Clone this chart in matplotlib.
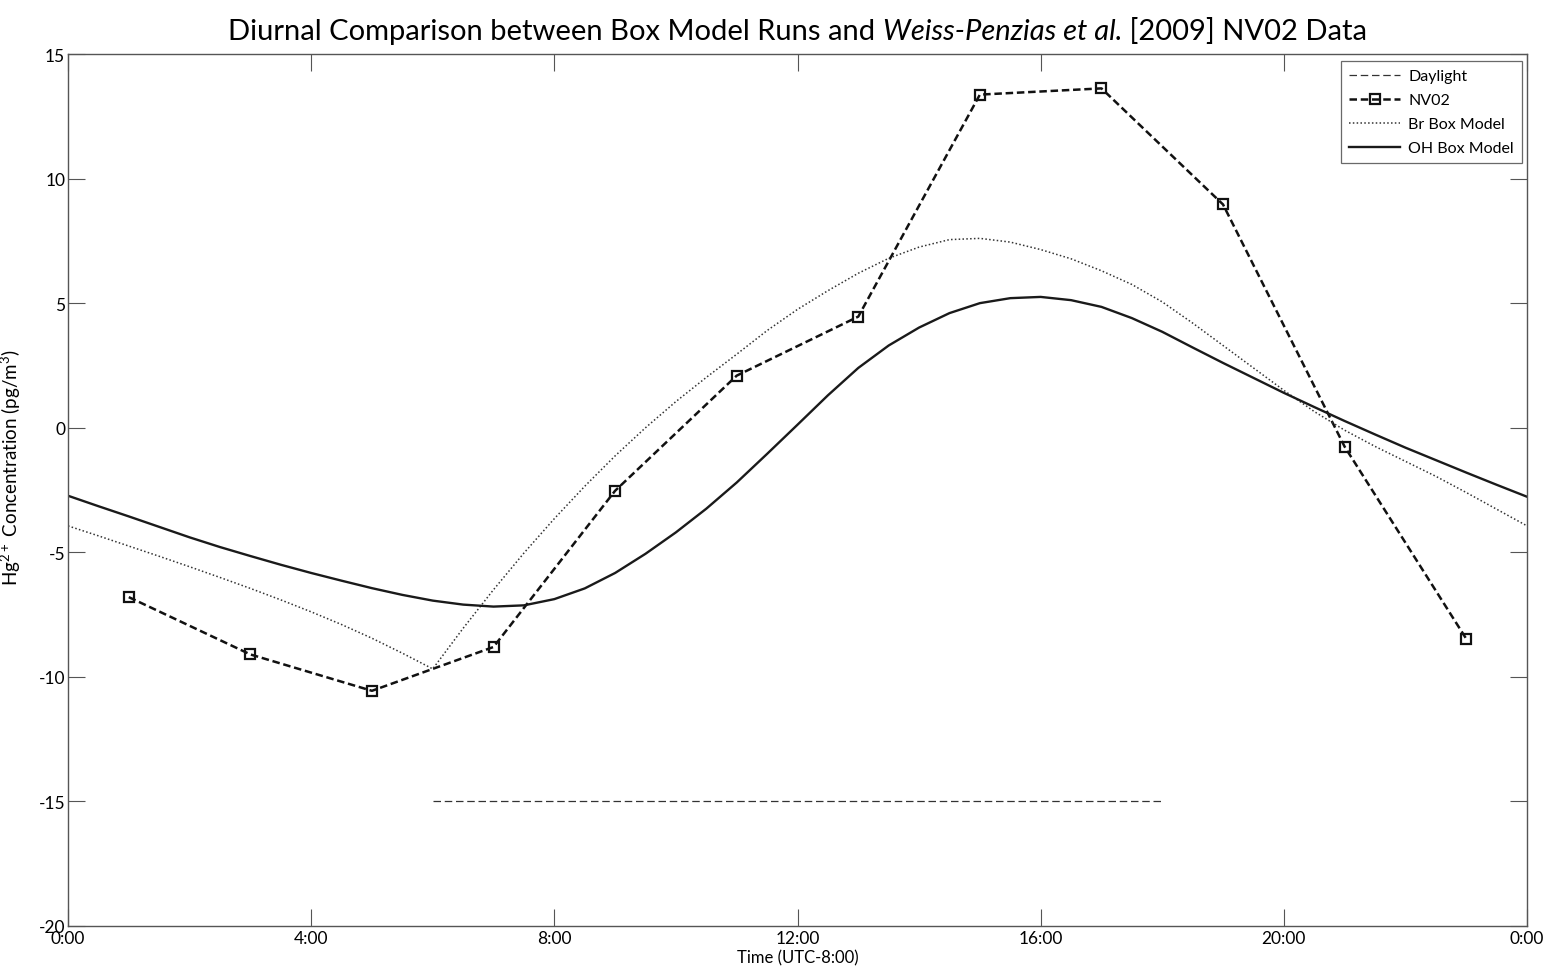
import matplotlib
matplotlib.use("Agg")
import matplotlib.pyplot as plt
from matplotlib.offsetbox import TextArea, HPacker, AnchoredOffsetbox

plt.rcParams['font.family'] = ['Lato', 'DejaVu Sans']
plt.rcParams['axes.unicode_minus'] = False
plt.rcParams['mathtext.fontset'] = 'custom'
plt.rcParams['mathtext.rm'] = 'Lato'

# ---------------- data ----------------
# NV02 observations (hour of day, pg/m3)
nv02_hours = [1, 3, 5, 7, 9, 11, 13, 15, 17, 19, 21, 23]
nv02_values = [-6.8, -9.1, -10.56, -8.8, -2.53, 2.09, 4.46, 13.37, 13.62, 8.96, -0.76, -8.47]

# Daylight period
daylight_hours = [6, 18]
daylight_values = [-15, -15]

# Box-model curves, read every half hour
model_hours = [0.0, 0.5, 1.0, 1.5, 2.0, 2.5, 3.0, 3.5, 4.0, 4.5, 5.0, 5.5,
               6.0, 6.5, 7.0, 7.5, 8.0, 8.5, 9.0, 9.5, 10.0, 10.5, 11.0, 11.5,
               12.0, 12.5, 13.0, 13.5, 14.0, 14.5, 15.0, 15.5, 16.0, 16.5, 17.0, 17.5,
               18.0, 18.5, 19.0, 19.5, 20.0, 20.5, 21.0, 21.5, 22.0, 22.5, 23.0, 23.5, 24.0]

oh_values = [-2.73, -3.15, -3.56, -3.98, -4.4, -4.79, -5.15, -5.5, -5.83, -6.14, -6.44, -6.71,
             -6.94, -7.1, -7.18, -7.13, -6.88, -6.45, -5.83, -5.06, -4.2, -3.25, -2.2, -1.05,
             0.12, 1.3, 2.4, 3.3, 4.02, 4.6, 5.0, 5.2, 5.25, 5.12, 4.85, 4.4,
             3.85, 3.22, 2.6, 2.0, 1.4, 0.83, 0.27, -0.27, -0.8, -1.3, -1.8, -2.29, -2.77]

br_values = [-3.94, -4.34, -4.75, -5.16, -5.58, -6.01, -6.45, -6.91, -7.39, -7.9, -8.45, -9.05,
             -9.68, -8.05, -6.5, -5.03, -3.65, -2.35, -1.13, 0.0, 1.05, 2.02, 2.95, 3.9,
             4.75, 5.5, 6.2, 6.8, 7.25, 7.55, 7.6, 7.45, 7.15, 6.78, 6.3, 5.75,
             5.05, 4.2, 3.3, 2.4, 1.5, 0.65, -0.1, -0.75, -1.35, -1.95, -2.6, -3.27, -3.94]

xtick_pos = [0, 4, 8, 12, 16, 20, 24]
xtick_labels = ['0:00', '4:00', '8:00', '12:00', '16:00', '20:00', '0:00']
ytick_pos = [-20, -15, -10, -5, 0, 5, 10, 15]

# ---------------- figure ----------------
fig = plt.figure(figsize=(15.47, 9.70), dpi=100)
ax = fig.add_axes([68/1547, 1-927/970, (1527-68)/1547, (927-55)/970])

ax.plot(daylight_hours, daylight_values, linestyle=(0, (6, 3)), color='#333333', lw=0.9, label='Daylight')
ax.plot(nv02_hours, nv02_values, linestyle=(0, (3, 1.5)), color='#111111', lw=1.8,
        marker='s', markersize=7, markerfacecolor='none', markeredgecolor='#111111',
        markeredgewidth=1.6, label='NV02')
ax.plot(model_hours, br_values, linestyle=(0, (1, 1.5)), color='#333333', lw=1.1, label='Br Box Model')
ax.plot(model_hours, oh_values, linestyle='-', color='#1a1a1a', lw=1.7, label='OH Box Model')

ax.set_xlim(0, 24)
ax.set_ylim(-20, 15)
ax.set_xticks(xtick_pos)
ax.set_xticklabels(xtick_labels)
ax.set_yticks(ytick_pos)
ax.tick_params(direction='in', length=12, width=0.8, color='#555555', top=True, right=True,
               labelsize=12.5)
ax.tick_params(axis='x', pad=3)
ax.tick_params(axis='y', pad=2)
for s in ax.spines.values():
    s.set_color('#555555')
    s.set_linewidth(1.0)

ax.set_xlabel('Time (UTC-8:00)', fontsize=12, labelpad=2)
ax.set_ylabel(r'Hg$^{2+}$ Concentration (pg/m$^3$)', fontsize=13.5)
ax.yaxis.set_label_coords(-0.031, 0.527)

leg = ax.legend(loc='upper right', fontsize=11.5, frameon=True, fancybox=False,
                edgecolor='#444444', handlelength=3.2, handletextpad=0.5,
                borderpad=0.5, labelspacing=0.62, borderaxespad=0,
                bbox_to_anchor=(0.9966, 0.992))
leg.get_frame().set_linewidth(0.9)

# Title with an italic part
tsize = 21
parts = [
    TextArea('Diurnal Comparison between Box Model Runs and ', textprops=dict(fontsize=tsize)),
    TextArea('Weiss-Penzias et al.', textprops=dict(fontsize=tsize, style='italic')),
    TextArea(' [2009] NV02 Data', textprops=dict(fontsize=tsize)),
]
box = HPacker(children=parts, align='baseline', pad=0, sep=0)
anch = AnchoredOffsetbox(loc='lower center', child=box, pad=0, frameon=False,
                         bbox_to_anchor=(0.5, 1.012), bbox_transform=ax.transAxes, borderpad=0)
ax.add_artist(anch)

fig.savefig('out.png', dpi=100)
